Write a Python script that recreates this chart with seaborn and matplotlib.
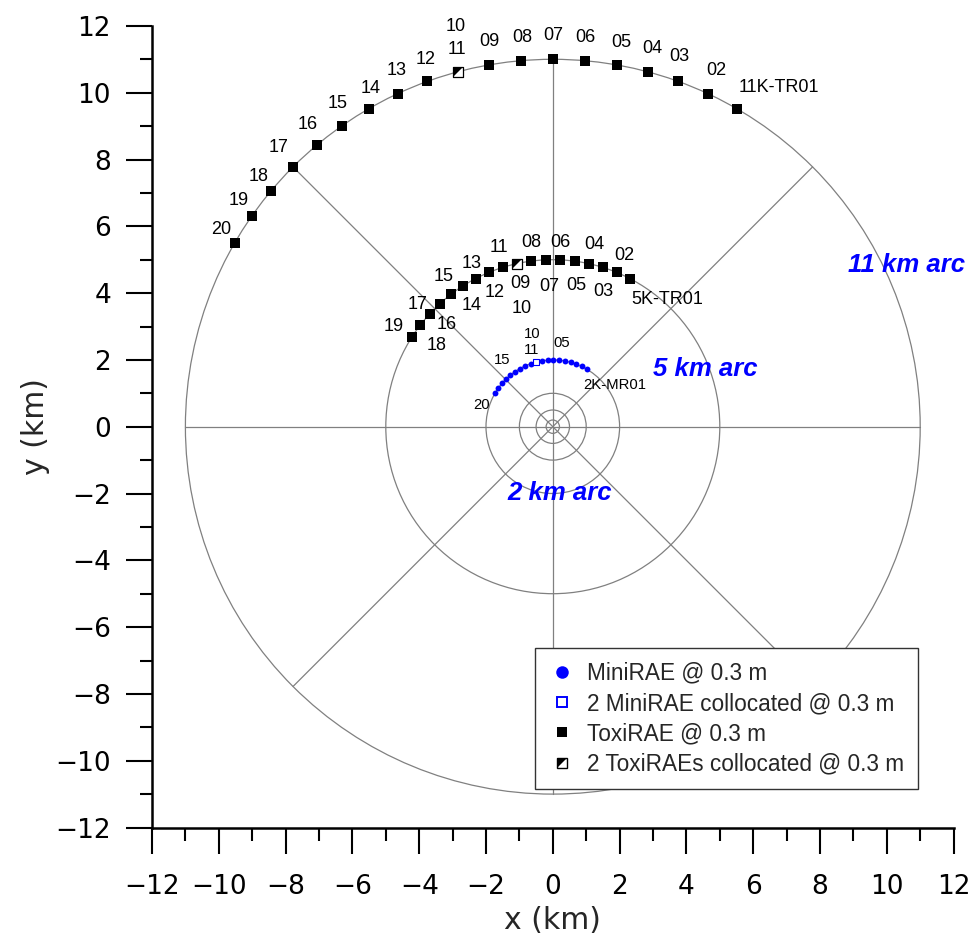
import numpy as np
import pandas as pd
import matplotlib
matplotlib.use("Agg")
import matplotlib.pyplot as plt
import seaborn as sns
from matplotlib.lines import Line2D
from matplotlib.patches import Circle
from matplotlib.legend_handler import HandlerTuple
from matplotlib.ticker import MultipleLocator

# ---------------- data ----------------
ring_radii_km = [0.2, 0.5, 1, 2, 5, 11]
spoke_angles_deg = [0, 45, 90, 135, 180, 225, 270, 315]
spoke_length_km = 11

tr11_radius_km = 11
tr11_ids = ["11K-TR01", "02", "03", "04", "05", "06", "07", "08", "09", "10",
            "11", "12", "13", "14", "15", "16", "17", "18", "19", "20"]
tr11_angles_deg = [60, 65, 70, 75, 80, 85, 90, 95, 100, 105,
                   105, 110, 115, 120, 125, 130, 135, 140, 145, 150]

tr5_radius_km = 5
tr5_ids = ["5K-TR01", "02", "03", "04", "05", "06", "07", "08", "09", "10",
           "11", "12", "13", "14", "15", "16", "17", "18", "19"]
tr5_angles_deg = [62.5, 67.5, 72.5, 77.5, 82.5, 87.5, 92.5, 97.5, 102.5, 102.5,
                  107.5, 112.5, 117.5, 122.5, 127.5, 132.5, 137.5, 142.5, 147.5]

mr2_radius_km = 2
mr2_ids = ["2K-MR01", "02", "03", "04", "05", "06", "07", "08", "09", "10",
           "11", "12", "13", "14", "15", "16", "17", "18", "19", "20"]
mr2_angles_deg = [59.5, 64.5, 69.5, 74.5, 79.5, 84.5, 89.5, 94.5, 99.5, 104.5,
                  104.5, 109.5, 114.5, 119.5, 124.5, 129.5, 134.5, 139.5, 144.5, 149.5]
mr2_labelled = ["2K-MR01", "05", "10", "11", "15", "20"]

arc_titles = ["11 km arc", "5 km arc", "2 km arc"]
legend_labels = ["MiniRAE @ 0.3 m", "2 MiniRAE collocated @ 0.3 m",
                 "ToxiRAE @ 0.3 m", "2 ToxiRAEs collocated @ 0.3 m"]
x_ticks = list(range(-12, 13, 2))
y_ticks = list(range(-12, 13, 2))

# ---------------- style ----------------
GRID = "#808080"
BLUE = "#0000FF"
LAB_FONT = "Liberation Sans"

# label offsets (pixels: dx, dy up); "L" = left aligned
off11 = {"11K-TR01": (2, 21, "L"), "02": (8, 23.5), "03": (1, 24.5), "04": (4, 23),
         "05": (4.5, 22), "06": (0.5, 23.5), "07": (0, 23.5), "08": (1.5, 23.5),
         "09": (0, 23.5), "10": (-2, 45), "11": (-1, 22.5), "12": (-1.3, 22),
         "13": (-1, 23.4), "14": (2, 20.5), "15": (-4.7, 22), "16": (-9, 21),
         "17": (-14, 19), "18": (-12.7, 14.5), "19": (-13.4, 15.7), "20": (-13.3, 14)}
off5 = {"5K-TR01": (1, -20.7, "L"), "02": (8, 17), "03": (0, -24.5), "04": (5, 19),
        "05": (2, -24), "06": (0, 17), "07": (4, -26.5), "08": (0, 18.6),
        "09": (4, -20), "10": (5, -45), "11": (-4, 20), "12": (6, -20),
        "13": (-4, 15), "14": (9, -20), "15": (-8, 18), "16": (7, -21),
        "17": (-12, 9), "18": (16, -20), "19": (-18, 10.5)}
off2 = {"2K-MR01": (-3.4, -16, "L"), "05": (-3, 17.7), "10": (-4.3, 27.7),
        "11": (-4.3, 11.7), "15": (-13, 11.7), "20": (-13.3, -12.3)}


def stations(ids, angles, radius):
    df = pd.DataFrame({"id": ids, "angle": angles})
    rad = np.radians(df["angle"].to_numpy(dtype=float))
    df["x"] = radius * np.cos(rad)
    df["y"] = radius * np.sin(rad)
    df["n"] = df.groupby("angle")["id"].transform("count")
    return df


tr11 = stations(tr11_ids, tr11_angles_deg, tr11_radius_km)
tr5 = stations(tr5_ids, tr5_angles_deg, tr5_radius_km)
mr2 = stations(mr2_ids, mr2_angles_deg, mr2_radius_km)

sns.set_theme(style="white")
plt.rcParams["font.family"] = ["DejaVu Sans"]
plt.rcParams["axes.unicode_minus"] = True

fig = plt.figure(figsize=(9.74, 9.40), dpi=100)
W, H = 974, 940
ax = fig.add_axes([152 / W, (H - 827.5) / H, 801.6 / W, 801.6 / H])
ax.set_xlim(-12, 12)
ax.set_ylim(-12, 12)

# rings and spokes
for r in ring_radii_km:
    ax.add_patch(Circle((0, 0), r, fill=False, ec=GRID, lw=0.9, zorder=1))
for a in spoke_angles_deg:
    ax.plot([0, spoke_length_km * np.cos(np.radians(a))],
            [0, spoke_length_km * np.sin(np.radians(a))],
            color=GRID, lw=0.9, zorder=1)

TRI = [(-1, -1), (-1, 1), (1, 1)]


def draw_tox(df, s):
    single = df[df["n"] == 1]
    pair = df[df["n"] > 1].drop_duplicates("angle")
    sns.scatterplot(data=single, x="x", y="y", marker="s", s=s, color="black",
                    linewidth=0, ax=ax, zorder=3, legend=False)
    sns.scatterplot(data=pair, x="x", y="y", marker="s", s=s, color="white",
                    edgecolor="black", linewidth=0.9, ax=ax, zorder=3, legend=False)
    sns.scatterplot(data=pair, x="x", y="y", marker=TRI, s=s, color="black",
                    linewidth=0, ax=ax, zorder=4, legend=False)


draw_tox(tr11, 50)
draw_tox(tr5, 42)

single2 = mr2[mr2["n"] == 1]
pair2 = mr2[mr2["n"] > 1].drop_duplicates("angle")
sns.scatterplot(data=single2, x="x", y="y", marker="o", s=18, color=BLUE,
                linewidth=0, ax=ax, zorder=3, legend=False)
sns.scatterplot(data=pair2, x="x", y="y", marker="s", s=14, color="white",
                edgecolor=BLUE, linewidth=0.8, ax=ax, zorder=3, legend=False)


def annotate(df, offsets, size, shown=None):
    for _, row in df.iterrows():
        if shown is not None and row["id"] not in shown:
            continue
        o = offsets[row["id"]]
        ha = "left" if len(o) > 2 else "center"
        ax.annotate(row["id"], (row["x"], row["y"]), xytext=(o[0], o[1]),
                    textcoords="offset pixels", ha=ha, va="center",
                    fontsize=size, family=LAB_FONT, color="black", zorder=5)


annotate(tr11, off11, 13)
annotate(tr5, off5, 13)
annotate(mr2, off2, 10.7, shown=mr2_labelled)

arc_text_xy = [(8.84, 4.84), (3.0, 1.73), (-1.37, -1.99)]
for t, (tx, ty) in zip(arc_titles, arc_text_xy):
    ax.text(tx, ty, t, color=BLUE, fontsize=18.5, fontweight="bold",
            fontstyle="italic", family=LAB_FONT, ha="left", va="center", zorder=5)

# axes styling
for side in ["top", "right"]:
    ax.spines[side].set_visible(False)
for side in ["left", "bottom"]:
    ax.spines[side].set_linewidth(1.8)
    ax.spines[side].set_color("black")
ax.set_xticks(x_ticks)
ax.set_yticks(y_ticks)
ax.xaxis.set_minor_locator(MultipleLocator(1))
ax.yaxis.set_minor_locator(MultipleLocator(1))
ax.tick_params(which="major", direction="out", length=18.5, width=1.5,
               color="black", labelsize=19, labelcolor="black")
ax.tick_params(which="minor", direction="out", length=9, width=1.5, color="black")
ax.tick_params(axis="x", which="major", pad=15)
ax.tick_params(axis="y", which="major", pad=11)
ax.tick_params(which="both", bottom=True, left=True)
ax.set_xlabel("x (km)", fontsize=21.5)
ax.set_ylabel("y (km)", fontsize=21.5)
ax.xaxis.set_label_coords(0.5, -0.098)
ax.yaxis.set_label_coords(-0.127, 0.5)
ax.grid(False)

# legend
h1 = Line2D([], [], ls="", marker="o", markersize=9, color=BLUE, markeredgewidth=0)
h2 = Line2D([], [], ls="", marker="s", markersize=7.5, markerfacecolor="white",
            markeredgecolor=BLUE, markeredgewidth=1.4)
h3 = Line2D([], [], ls="", marker="s", markersize=7.5, color="black", markeredgewidth=0)
h4a = Line2D([], [], ls="", marker="s", markersize=7.5, markerfacecolor="white",
             markeredgecolor="black", markeredgewidth=1.0)
h4b = Line2D([], [], ls="", marker=TRI, markersize=7.5, color="black", markeredgewidth=0)
leg = ax.legend([h1, h2, h3, (h4a, h4b)], legend_labels,
                handler_map={tuple: HandlerTuple(ndivide=1)},
                loc="lower right", bbox_to_anchor=(0.955, 0.048),
                bbox_transform=ax.transAxes, borderaxespad=0,
                prop={"family": LAB_FONT, "size": 16.3},
                frameon=True, fancybox=False, framealpha=1, edgecolor="#333333",
                handlelength=1.2, handletextpad=0.5, borderpad=0.6,
                labelspacing=0.32)
leg.get_frame().set_linewidth(1.0)
leg.set_zorder(10)

fig.savefig("out.png", dpi=100, facecolor="white")
